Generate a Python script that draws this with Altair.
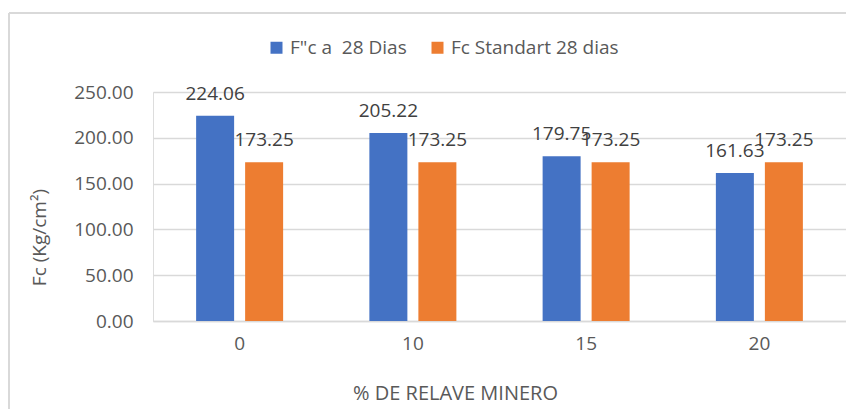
import altair as alt
import pandas as pd

categories = ["0", "10", "15", "20"]
series_names = ["F\"c a \u00a028 Dias", "Fc Standart 28 dias"]
fc_28 = [224.06, 205.22, 179.75, 161.63]
fc_std = [173.25, 173.25, 173.25, 173.25]
y_ticks = [0, 50, 100, 150, 200, 250]

rows = []
for c, a, b in zip(categories, fc_28, fc_std):
    rows.append({"cat": c, "serie": series_names[0], "val": a})
    rows.append({"cat": c, "serie": series_names[1], "val": b})
df = pd.DataFrame(rows)

FONT = "Open Sans"
GRID = "#d9d9d9"
FS = 19

x_enc = alt.X("cat:N", sort=categories,
              scale=alt.Scale(paddingInner=0, paddingOuter=0),
              axis=alt.Axis(title="% DE RELAVE MINERO", labelAngle=0, ticks=False, grid=False,
                            domainColor=GRID, domainWidth=1.5,
                            labelPadding=13, labelFontSize=FS, labelColor="#595959",
                            titleFontSize=20, titleFontWeight="normal", titleColor="#595959",
                            titleX=302, titleY=72, titleBaseline="middle", titleAlign="center"))
xo_enc = alt.XOffset("serie:N", sort=series_names,
                     scale=alt.Scale(paddingInner=0.2245, paddingOuter=0.88))
y_enc = alt.Y("val:Q", scale=alt.Scale(domain=[0, 250], nice=False),
              axis=alt.Axis(title="Fc (Kg/cm²)", values=y_ticks, format=".2f",
                            domain=False, ticks=False, grid=True, gridColor=GRID, gridWidth=1.5,
                            labelPadding=20, labelFontSize=FS, labelColor="#595959",
                            titleFontSize=FS, titleFontWeight="normal", titleColor="#595959",
                            titleAngle=270, titleX=-114, titleY=145,
                            titleBaseline="middle", titleAlign="center"))
color_enc = alt.Color("serie:N", sort=series_names,
                      scale=alt.Scale(domain=series_names, range=["#4472C4", "#ED7D31"]),
                      legend=alt.Legend(title=None, orient="none", direction="horizontal",
                                        legendX=114, legendY=-54, symbolType="square",
                                        symbolSize=144, symbolStrokeWidth=0,
                                        labelFontSize=FS, labelColor="#595959",
                                        labelOffset=4, columnPadding=21, labelLimit=300))

bars = alt.Chart(df).mark_bar().encode(x=x_enc, xOffset=xo_enc, y=y_enc, color=color_enc)
labels = alt.Chart(df).mark_text(baseline="middle", dy=-22, fontSize=FS, font=FONT,
                                 color="#404040").encode(
    x=alt.X("cat:N", sort=categories), xOffset=alt.XOffset("serie:N", sort=series_names),
    y="val:Q", text=alt.Text("val:Q", format=".2f"))

border_v = alt.Chart(df).mark_rule(color=GRID, strokeWidth=1.5).encode(
    x=alt.value(-144), y=alt.value(-79), y2=alt.value(330))
border_h = alt.Chart(df).mark_rule(color=GRID, strokeWidth=1.5).encode(
    x=alt.value(-144), x2=alt.value(700), y=alt.value(-79))

chart = alt.layer(border_v, border_h, bars, labels).properties(
    width=693, height=229,
    autosize=alt.AutoSizeParams(type="none"),
    padding={"left": 145, "top": 84, "right": 0, "bottom": 88},
).configure_view(stroke="transparent", strokeWidth=0).configure(font=FONT, background="white")

chart.save("out.html", embed_options={"renderer": "svg", "actions": False})
